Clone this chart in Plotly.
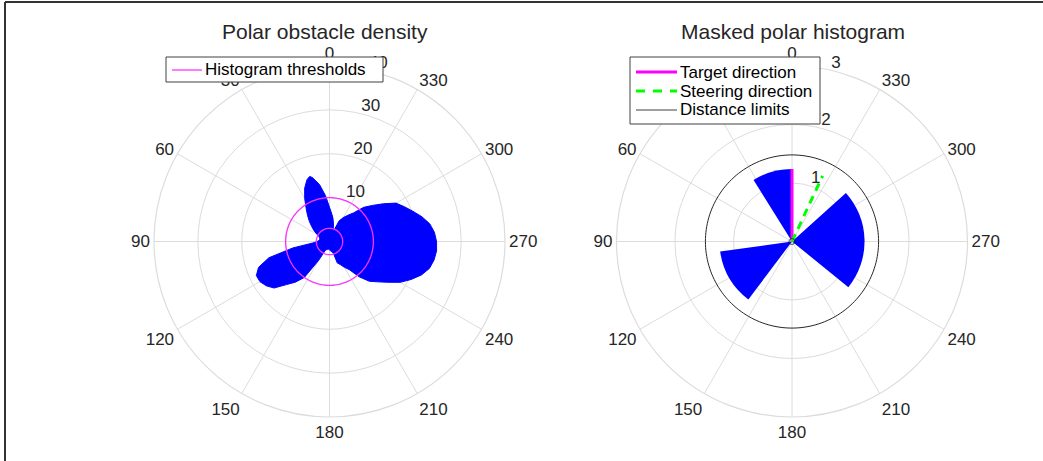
import plotly.graph_objects as go

# ---------------- data ----------------
# Polar obstacle density (angle in degrees, CCW from top)
density_theta = [0, 5, 10, 15, 17, 20, 25, 30, 35, 40, 45, 50, 55, 60, 65, 70, 75, 80, 85, 90,
                 95, 100, 105, 110, 115, 120, 125, 130, 135, 140, 145, 150, 155, 160, 165, 170,
                 175, 180, 185, 190, 195, 198, 200, 205, 210, 215, 220, 225, 230, 235, 240, 245,
                 250, 255, 260, 265, 270, 275, 280, 285, 290, 295, 300, 305, 310, 315, 320, 325,
                 330, 335, 338, 340, 343, 348, 352, 356]
density_r = [7.8, 10.5, 13.2, 15.1, 15.5, 15.0, 13.4, 11.3, 9.3, 7.8, 6.5, 5.3, 4.3, 3.3, 2.7, 2.4,
             2.3, 2.3, 2.5, 2.8, 3.8, 8.5, 14.3, 17.2, 18.4, 18.3, 17.6, 16.5, 13.9, 12.1, 10.0, 5.0,
             2.2, 2.0, 1.9, 1.8, 1.8, 1.9, 2.1, 2.3, 2.6, 2.8, 5.2, 5.8, 6.8, 7.8, 10.5, 12.8, 14.3,
             16.2, 18.6, 20.5, 22.3, 23.6, 24.2, 24.5, 24.4, 24.0, 23.2, 21.8, 20.2, 18.8, 17.5,
             15.0, 12.8, 11.0, 8.5, 7.3, 6.3, 5.2, 2.8, 2.6, 3.0, 4.3, 5.5, 6.5]
histogram_thresholds = [3, 10]

# Masked polar histogram: free sectors (start/end angle, radius)
mask_start = [0, 98, 231]
mask_end = [32, 143, 312]
mask_r = [1.24, 1.24, 1.24]
target_direction = 0
target_length = 1.24
steering_direction = 335
steering_length = 1.24
distance_limits = [0.05, 1.48]

angular_ticks = list(range(0, 360, 30))
left_rticks = [10, 20, 30, 40]
right_rticks = [1, 2, 3]

left_legend = ["Histogram thresholds"]
right_legend = ["Target direction", "Steering direction", "Distance limits"]

FONT = "Liberation Sans, Arial, sans-serif"
TXT = "#262626"
GRID = "#dcdcdc"
MAGENTA_T = "#FF33FF"
MAGENTA = "#FF00FF"
GREEN = "#00FF00"
BLUE = "#0000FF"

circle_theta = list(range(0, 361, 2))
W, H = 1043, 461

fig = go.Figure()

# left: density lobes
fig.add_trace(go.Scatterpolar(
    r=density_r + [density_r[0]], theta=density_theta + [density_theta[0]],
    mode="lines", fill="toself", fillcolor=BLUE,
    line=dict(color=BLUE, width=1), showlegend=False, subplot="polar",
    hoverinfo="skip"))

# thresholds circles
th_r, th_t = [], []
for i, t in enumerate(histogram_thresholds):
    if i:
        th_r.append(None); th_t.append(None)
    th_r += [t] * len(circle_theta)
    th_t += circle_theta
fig.add_trace(go.Scatterpolar(
    r=th_r, theta=th_t, mode="lines", line=dict(color=MAGENTA_T, width=1.3),
    name=left_legend[0], showlegend=False, subplot="polar"))

# right: masked histogram wedges
fig.add_trace(go.Barpolar(
    r=mask_r,
    theta=[(s + e) / 2 for s, e in zip(mask_start, mask_end)],
    width=[e - s for s, e in zip(mask_start, mask_end)],
    marker=dict(color=BLUE, line=dict(width=0)),
    showlegend=False, subplot="polar2", hoverinfo="skip"))

fig.add_trace(go.Scatterpolar(
    r=[0, target_length], theta=[target_direction, target_direction], mode="lines",
    line=dict(color=MAGENTA, width=3), name=right_legend[0],
    showlegend=False, subplot="polar2"))
fig.add_trace(go.Scatterpolar(
    r=[0, steering_length], theta=[steering_direction, steering_direction], mode="lines",
    line=dict(color=GREEN, width=3, dash="8px,6px"), name=right_legend[1],
    showlegend=False, subplot="polar2"))

dl_r, dl_t = [], []
for i, d in enumerate(distance_limits):
    if i:
        dl_r.append(None); dl_t.append(None)
    dl_r += [d] * len(circle_theta)
    dl_t += circle_theta
fig.add_trace(go.Scatterpolar(
    r=dl_r, theta=dl_t, mode="lines", line=dict(color="#262626", width=1),
    name=right_legend[2], showlegend=False, subplot="polar2"))


def ang_axis():
    return dict(rotation=90, direction="counterclockwise", tickmode="array",
                tickvals=angular_ticks, ticktext=[str(a) for a in angular_ticks],
                showgrid=True, gridcolor=GRID, gridwidth=1.2, showline=True,
                linecolor=GRID, linewidth=1.2, ticks="",
                tickfont=dict(family=FONT, size=17, color=TXT))


def rad_axis(rng, tv):
    return dict(range=rng, tickmode="array", tickvals=tv,
                ticktext=[f"{v}<br> " for v in tv],
                showline=False, ticks="", showgrid=True, gridcolor=GRID, gridwidth=1.2,
                angle=80, tickangle=80, side="clockwise",
                tickfont=dict(family=FONT, size=17, color=TXT))


def px(x):
    return x / W


def py(y):
    return 1 - y / H


shapes = [
    dict(type="line", xref="paper", yref="paper", x0=px(5), x1=px(5), y0=0, y1=py(2),
         line=dict(color="#333333", width=2)),
    dict(type="line", xref="paper", yref="paper", x0=px(5), x1=1, y0=py(2), y1=py(2),
         line=dict(color="#333333", width=2)),
]
annotations = [
    dict(text="Polar obstacle density", x=px(325), y=py(32), xref="paper", yref="paper",
         xanchor="center", yanchor="middle", showarrow=False,
         font=dict(family=FONT, size=21, color=TXT)),
    dict(text="Masked polar histogram", x=px(793), y=py(32), xref="paper", yref="paper",
         xanchor="center", yanchor="middle", showarrow=False,
         font=dict(family=FONT, size=21, color=TXT)),
]

# legend boxes (drawn as shapes + text)
def legend_box(x0, y0, x1, y1):
    shapes.append(dict(type="rect", xref="paper", yref="paper", x0=px(x0), x1=px(x1),
                       y0=py(y1), y1=py(y0), fillcolor="white",
                       line=dict(color="#404040", width=1), layer="above"))


def legend_item(xs0, xs1, y, text, line):
    shapes.append(dict(type="line", xref="paper", yref="paper", x0=px(xs0), x1=px(xs1),
                       y0=py(y), y1=py(y), line=line, layer="above"))
    annotations.append(dict(text=text, x=px(xs1 + 1), y=py(y), xref="paper", yref="paper",
                            xanchor="left", yanchor="middle", showarrow=False,
                            font=dict(family=FONT, size=17, color="black")))


legend_box(166, 57, 383, 82)
legend_item(172, 202, 70, left_legend[0], dict(color=MAGENTA_T, width=1.3))

legend_box(630, 57, 820, 124)
legend_item(636, 677, 72, right_legend[0], dict(color=MAGENTA, width=3))
legend_item(636, 677, 91, right_legend[1], dict(color=GREEN, width=3, dash="9px,8px"))
legend_item(636, 677, 110, right_legend[2], dict(color="#404040", width=1))

fig.update_layout(
    width=W, height=H, margin=dict(l=0, r=0, t=0, b=0),
    paper_bgcolor="white", plot_bgcolor="white",
    font=dict(family=FONT, color=TXT),
    showlegend=False,
    polar=dict(domain=dict(x=[px(154), px(505)], y=[44 / H, 395 / H]), bgcolor="white",
               angularaxis=ang_axis(), radialaxis=rad_axis([0, 40], left_rticks)),
    polar2=dict(domain=dict(x=[px(616), px(968)], y=[44 / H, 395 / H]), bgcolor="white",
                angularaxis=ang_axis(), radialaxis=rad_axis([0, 3], right_rticks)),
    annotations=annotations,
    shapes=shapes,
)

fig.write_html("out.html", config={"displayModeBar": False},
               post_script="document.body.style.margin='0';document.body.style.overflow='hidden';")
